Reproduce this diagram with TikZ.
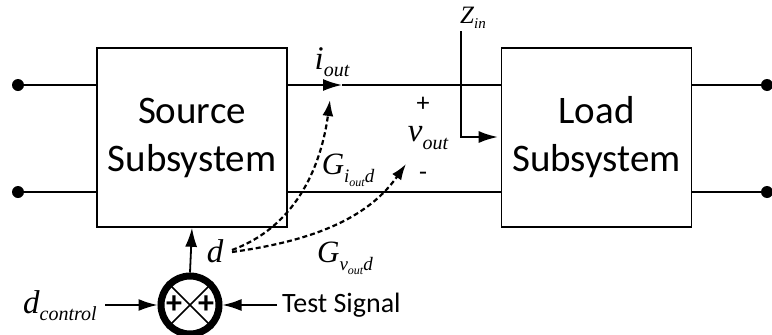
\documentclass[tikz,border=0pt]{standalone}
\usepackage{fontspec}
\setmainfont{Carlito}
\newfontfamily\tnr{Liberation Serif}
\usetikzlibrary{arrows.meta}
\newcommand{\lbl}[3][20]{{\tnr\itshape #2}\raisebox{-0.45ex}{\fontsize{#1}{#1}\tnr\itshape #3}}
\begin{document}
\begin{tikzpicture}[x=1pt,y=-1pt,
  wire/.style={line width=1.8pt},
  blk/.style={draw,line width=1.6pt,minimum width=190pt,minimum height=179pt,align=center,font=\fontsize{39}{48}\selectfont,inner sep=0pt},
  dot/.style={circle,fill,inner sep=0pt,minimum size=12pt},
  arr/.style={wire,-{Latex[length=19pt,width=12pt]}},
  darr/.style={line width=2.2pt,dashed,dash pattern=on 5pt off 3pt,-{Latex[length=16pt,width=11pt]}},
  mlbl/.style={inner sep=0pt,font=\fontsize{33}{33}\selectfont}]
\useasboundingbox (0,0) rectangle (772,335);
\node[blk] (src) at (192,137.5) {Source\\Subsystem};
\node[blk] (load) at (596.5,137.5) {Load\\Subsystem};
\node[dot] (L1) at (18,85) {};
\node[dot] (L2) at (18,192) {};
\node[dot] (R1) at (767,85) {};
\node[dot] (R2) at (767,192) {};
\draw[wire] (L1) -- (L1 -| src.west);
\draw[wire] (L2) -- (L2 -| src.west);
\draw[wire] (R1) -- (R1 -| load.east);
\draw[wire] (R2) -- (R2 -| load.east);
\coordinate (itip) at (342,85);
\draw[arr] (src.east |- itip) -- (itip);
\draw[wire] (itip) -- (itip -| load.west);
\draw[wire] (src.east |- L2) -- (load.west |- L2);
\node[mlbl] (iout) at (332,62) {\lbl{i}{out}};
% Z_in
\node[inner sep=0pt,font=\fontsize{25}{25}\selectfont] (zin) at (473,18) {\lbl[15]{Z}{in}};
\coordinate (zc) at (461,137);
\draw[arr] (461,31) -- (zc) -- ([xshift=-3pt]zc -| load.west);
% v_out
\node[inner sep=0pt,font=\fontsize{26}{26}\selectfont] (plus) at (423,104) {+};
\node[mlbl] (vout) at (428,138) {\lbl{v}{out}};
\node[inner sep=0pt,font=\fontsize{26}{26}\selectfont] (minus) at (423,176) {-};
% summing junction
\node[circle,draw,line width=7pt,minimum size=58pt,inner sep=0pt] (sum) at (190,305) {};
\draw[line width=1.6pt] (sum.45) -- (sum.225) (sum.135) -- (sum.315);
\node[inner sep=0pt,font=\fontsize{32}{32}\bfseries] (p1) at (174,305) {+};
\node[inner sep=0pt,font=\fontsize{32}{32}\bfseries] (p2) at (206,305) {+};
\draw[arr] (sum.north) -- (src.south);
\node[mlbl] (dctl) at (60,306) {\lbl{d}{control}};
\draw[arr] (105,305) -- (sum.west);
\node[anchor=west,inner sep=0pt,font=\fontsize{28}{28}\selectfont] (ts) at (282,305) {Test Signal};
\draw[arr] (ts.west) ++(-5pt,0) coordinate (tsl) (tsl) -- (sum.east);
\node[mlbl] (d) at (215,255) {\lbl{d}{}};
% dashed gains
\draw[darr] (232,250) .. controls (300,225) and (322,160) .. (330,100);
\draw[darr] (232,252) .. controls (320,240) and (370,215) .. (406,164);
\node[inner sep=0pt,font=\fontsize{31}{31}\selectfont] (gi) at (348,170) {{\tnr\itshape G}\raisebox{-0.6ex}{\fontsize{19}{19}\tnr\itshape i\raisebox{-0.4ex}{\fontsize{12}{12}\selectfont out}d}};
\node[inner sep=0pt,font=\fontsize{31}{31}\selectfont] (gv) at (345,258) {{\tnr\itshape G}\raisebox{-0.6ex}{\fontsize{19}{19}\tnr\itshape v\raisebox{-0.4ex}{\fontsize{12}{12}\selectfont out}d}};
\end{tikzpicture}
\end{document}
